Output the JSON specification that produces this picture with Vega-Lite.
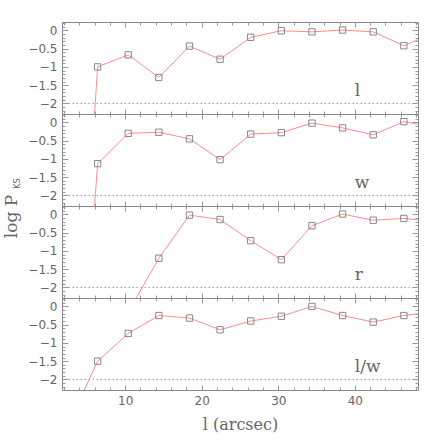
{
  "$schema": "https://vega.github.io/schema/vega-lite/v6.json",
  "padding": {"left": 2, "top": 21, "right": 0, "bottom": 0},
  "spacing": 0,
  "bounds": "flush",
  "config": {
    "view": {"stroke": "#888", "strokeWidth": 1},
    "axis": {"grid": false, "tickColor": "#999", "labelColor": "#666", "titleColor": "#666", "labelFont": "DejaVu Sans", "labelFontSize": 12, "titleFont": "DejaVu Serif", "titleFontWeight": "normal"},
    "concat": {"spacing": 0}
  },
  "datasets": {
    "l": [{"x": 2.4, "y": -14}, {"x": 6.4, "y": -1.0}, {"x": 10.4, "y": -0.67}, {"x": 14.4, "y": -1.29}, {"x": 18.4, "y": -0.43}, {"x": 22.4, "y": -0.79}, {"x": 26.4, "y": -0.19}, {"x": 30.4, "y": -0.01}, {"x": 34.4, "y": -0.04}, {"x": 38.4, "y": 0.01}, {"x": 42.4, "y": -0.04}, {"x": 46.4, "y": -0.42}, {"x": 50.4, "y": -0.06}],
    "w": [{"x": 2.4, "y": -12.8}, {"x": 6.4, "y": -1.13}, {"x": 10.4, "y": -0.30}, {"x": 14.4, "y": -0.27}, {"x": 18.4, "y": -0.45}, {"x": 22.4, "y": -1.02}, {"x": 26.4, "y": -0.32}, {"x": 30.4, "y": -0.28}, {"x": 34.4, "y": -0.02}, {"x": 38.4, "y": -0.15}, {"x": 42.4, "y": -0.34}, {"x": 46.4, "y": 0.02}, {"x": 50.4, "y": -0.13}],
    "r": [{"x": 10.4, "y": -2.68}, {"x": 14.4, "y": -1.20}, {"x": 18.4, "y": -0.02}, {"x": 22.4, "y": -0.14}, {"x": 26.4, "y": -0.72}, {"x": 30.4, "y": -1.24}, {"x": 34.4, "y": -0.31}, {"x": 38.4, "y": 0.01}, {"x": 42.4, "y": -0.16}, {"x": 46.4, "y": -0.11}, {"x": 50.4, "y": -0.2}],
    "lw": [{"x": 2.4, "y": -3.33}, {"x": 6.4, "y": -1.50}, {"x": 10.4, "y": -0.74}, {"x": 14.4, "y": -0.25}, {"x": 18.4, "y": -0.32}, {"x": 22.4, "y": -0.64}, {"x": 26.4, "y": -0.40}, {"x": 30.4, "y": -0.27}, {"x": 34.4, "y": 0.0}, {"x": 38.4, "y": -0.25}, {"x": 42.4, "y": -0.43}, {"x": 46.4, "y": -0.25}, {"x": 50.4, "y": -0.15}],
    "ref": [{"ref": -2}]
  },
  "vconcat": [
    {
      "width": 356, "height": 92,
      "data": {"name": "l"},
      "layer": [
        {"data": {"name": "ref"}, "mark": {"type": "rule", "color": "#999", "strokeDash": [1.5, 2.5], "strokeWidth": 1},
         "encoding": {"y": {"field": "ref", "type": "quantitative", "scale": {"domain": [-2.29, 0.23]}, "axis": null}}},
        {"mark": {"type": "line", "color": "#ff8c8c", "strokeWidth": 1, "clip": true},
         "encoding": {"x": {"field": "x", "type": "quantitative", "scale": {"domain": [1.75, 48.25]}, "axis": {"orient": "bottom", "values": [10, 20, 30, 40], "tickSize": -5, "labels": false, "domain": false, "title": null}},
                      "y": {"field": "y", "type": "quantitative", "scale": {"domain": [-2.29, 0.23]}, "axis": {"orient": "left", "values": [0, -0.5, -1, -1.5, -2], "format": "~g", "tickSize": -6, "labelPadding": 11, "domain": false, "title": null}}}},
        {"mark": {"type": "point", "shape": "square", "size": 40, "filled": false, "color": "#888", "strokeWidth": 1, "opacity": 1, "clip": true},
         "encoding": {"x": {"field": "x", "type": "quantitative", "scale": {"domain": [1.75, 48.25]}, "axis": {"orient": "top", "values": [10, 20, 30, 40], "tickSize": -5, "labels": false, "domain": false, "title": null}},
                      "y": {"field": "y", "type": "quantitative", "scale": {"domain": [-2.29, 0.23]}, "axis": {"orient": "right", "values": [0, -0.5, -1, -1.5, -2], "tickSize": -6, "labels": false, "domain": false, "title": null}}}},
        {"mark": {"type": "point", "opacity": 0, "clip": true},
         "encoding": {"x": {"field": "x", "type": "quantitative", "scale": {"domain": [1.75, 48.25]}, "axis": {"orient": "bottom", "values": [2,4,6,8,12,14,16,18,22,24,26,28,32,34,36,38,42,44,46,48], "tickSize": -3, "labels": false, "domain": false, "title": null}},
                      "y": {"field": "y", "type": "quantitative", "scale": {"domain": [-2.29, 0.23]}, "axis": {"orient": "left", "values": [0.2,0.1,-0.1,-0.2,-0.3,-0.4,-0.6,-0.7,-0.8,-0.9,-1.1,-1.2,-1.3,-1.4,-1.6,-1.7,-1.8,-1.9,-2.1,-2.2], "tickSize": -3, "labels": false, "domain": false, "title": null}}}},
        {"mark": {"type": "point", "opacity": 0, "clip": true},
         "encoding": {"x": {"field": "x", "type": "quantitative", "scale": {"domain": [1.75, 48.25]}, "axis": {"orient": "top", "values": [2,4,6,8,12,14,16,18,22,24,26,28,32,34,36,38,42,44,46,48], "tickSize": -3, "labels": false, "domain": false, "title": null}},
                      "y": {"field": "y", "type": "quantitative", "scale": {"domain": [-2.29, 0.23]}, "axis": {"orient": "right", "values": [0.2,0.1,-0.1,-0.2,-0.3,-0.4,-0.6,-0.7,-0.8,-0.9,-1.1,-1.2,-1.3,-1.4,-1.6,-1.7,-1.8,-1.9,-2.1,-2.2], "tickSize": -3, "labels": false, "domain": false, "title": null}}}},
        {"data": {"name": "ref"}, "mark": {"type": "text", "align": "left", "baseline": "alphabetic", "font": "DejaVu Serif", "fontSize": 17, "color": "#666"},
         "encoding": {"x": {"datum": 40, "type": "quantitative", "scale": {"domain": [1.75, 48.25]}, "axis": null}, "y": {"datum": -1.8, "type": "quantitative", "scale": {"domain": [-2.29, 0.23]}, "axis": null}, "text": {"value": "l"}}}
      ],
      "resolve": {"axis": {"x": "independent", "y": "independent"}}
    },
    {
      "width": 356, "height": 92,
      "data": {"name": "w"},
      "layer": [
        {"data": {"name": "ref"}, "mark": {"type": "rule", "color": "#999", "strokeDash": [1.5, 2.5], "strokeWidth": 1},
         "encoding": {"y": {"field": "ref", "type": "quantitative", "scale": {"domain": [-2.29, 0.23]}, "axis": null}}},
        {"mark": {"type": "line", "color": "#ff8c8c", "strokeWidth": 1, "clip": true},
         "encoding": {"x": {"field": "x", "type": "quantitative", "scale": {"domain": [1.75, 48.25]}, "axis": {"orient": "bottom", "values": [10, 20, 30, 40], "tickSize": -5, "labels": false, "domain": false, "title": null}},
                      "y": {"field": "y", "type": "quantitative", "scale": {"domain": [-2.29, 0.23]}, "axis": {"orient": "left", "values": [0, -0.5, -1, -1.5, -2], "format": "~g", "tickSize": -6, "labelPadding": 11, "domain": false, "title": "log P", "titleFontSize": 17, "titleX": -45.5, "titleY": 102, "titleBaseline": "alphabetic", "titleAngle": 270}}}},
        {"mark": {"type": "point", "shape": "square", "size": 40, "filled": false, "color": "#888", "strokeWidth": 1, "opacity": 1, "clip": true},
         "encoding": {"x": {"field": "x", "type": "quantitative", "scale": {"domain": [1.75, 48.25]}, "axis": {"orient": "top", "values": [10, 20, 30, 40], "tickSize": -5, "labels": false, "domain": false, "title": null}},
                      "y": {"field": "y", "type": "quantitative", "scale": {"domain": [-2.29, 0.23]}, "axis": {"orient": "right", "values": [0, -0.5, -1, -1.5, -2], "tickSize": -6, "labels": false, "domain": false, "title": null}}}},
        {"mark": {"type": "point", "opacity": 0, "clip": true},
         "encoding": {"x": {"field": "x", "type": "quantitative", "scale": {"domain": [1.75, 48.25]}, "axis": {"orient": "bottom", "values": [2,4,6,8,12,14,16,18,22,24,26,28,32,34,36,38,42,44,46,48], "tickSize": -3, "labels": false, "domain": false, "title": null}},
                      "y": {"field": "y", "type": "quantitative", "scale": {"domain": [-2.29, 0.23]}, "axis": {"orient": "left", "values": [0.2,0.1,-0.1,-0.2,-0.3,-0.4,-0.6,-0.7,-0.8,-0.9,-1.1,-1.2,-1.3,-1.4,-1.6,-1.7,-1.8,-1.9,-2.1,-2.2], "tickSize": -3, "labels": false, "domain": false, "title": "KS", "titleFont": "DejaVu Sans", "titleFontSize": 8, "titleX": -42.7, "titleY": 69, "titleBaseline": "alphabetic", "titleAngle": 270}}}},
        {"mark": {"type": "point", "opacity": 0, "clip": true},
         "encoding": {"x": {"field": "x", "type": "quantitative", "scale": {"domain": [1.75, 48.25]}, "axis": {"orient": "top", "values": [2,4,6,8,12,14,16,18,22,24,26,28,32,34,36,38,42,44,46,48], "tickSize": -3, "labels": false, "domain": false, "title": null}},
                      "y": {"field": "y", "type": "quantitative", "scale": {"domain": [-2.29, 0.23]}, "axis": {"orient": "right", "values": [0.2,0.1,-0.1,-0.2,-0.3,-0.4,-0.6,-0.7,-0.8,-0.9,-1.1,-1.2,-1.3,-1.4,-1.6,-1.7,-1.8,-1.9,-2.1,-2.2], "tickSize": -3, "labels": false, "domain": false, "title": null}}}},
        {"data": {"name": "ref"}, "mark": {"type": "text", "align": "left", "baseline": "alphabetic", "font": "DejaVu Serif", "fontSize": 17, "color": "#666"},
         "encoding": {"x": {"datum": 40, "type": "quantitative", "scale": {"domain": [1.75, 48.25]}, "axis": null}, "y": {"datum": -1.8, "type": "quantitative", "scale": {"domain": [-2.29, 0.23]}, "axis": null}, "text": {"value": "w"}}}
      ],
      "resolve": {"axis": {"x": "independent", "y": "independent"}}
    },
    {
      "width": 356, "height": 92,
      "data": {"name": "r"},
      "layer": [
        {"data": {"name": "ref"}, "mark": {"type": "rule", "color": "#999", "strokeDash": [1.5, 2.5], "strokeWidth": 1},
         "encoding": {"y": {"field": "ref", "type": "quantitative", "scale": {"domain": [-2.29, 0.23]}, "axis": null}}},
        {"mark": {"type": "line", "color": "#ff8c8c", "strokeWidth": 1, "clip": true},
         "encoding": {"x": {"field": "x", "type": "quantitative", "scale": {"domain": [1.75, 48.25]}, "axis": {"orient": "bottom", "values": [10, 20, 30, 40], "tickSize": -5, "labels": false, "domain": false, "title": null}},
                      "y": {"field": "y", "type": "quantitative", "scale": {"domain": [-2.29, 0.23]}, "axis": {"orient": "left", "values": [0, -0.5, -1, -1.5, -2], "format": "~g", "tickSize": -6, "labelPadding": 11, "domain": false, "title": null}}}},
        {"mark": {"type": "point", "shape": "square", "size": 40, "filled": false, "color": "#888", "strokeWidth": 1, "opacity": 1, "clip": true},
         "encoding": {"x": {"field": "x", "type": "quantitative", "scale": {"domain": [1.75, 48.25]}, "axis": {"orient": "top", "values": [10, 20, 30, 40], "tickSize": -5, "labels": false, "domain": false, "title": null}},
                      "y": {"field": "y", "type": "quantitative", "scale": {"domain": [-2.29, 0.23]}, "axis": {"orient": "right", "values": [0, -0.5, -1, -1.5, -2], "tickSize": -6, "labels": false, "domain": false, "title": null}}}},
        {"mark": {"type": "point", "opacity": 0, "clip": true},
         "encoding": {"x": {"field": "x", "type": "quantitative", "scale": {"domain": [1.75, 48.25]}, "axis": {"orient": "bottom", "values": [2,4,6,8,12,14,16,18,22,24,26,28,32,34,36,38,42,44,46,48], "tickSize": -3, "labels": false, "domain": false, "title": null}},
                      "y": {"field": "y", "type": "quantitative", "scale": {"domain": [-2.29, 0.23]}, "axis": {"orient": "left", "values": [0.2,0.1,-0.1,-0.2,-0.3,-0.4,-0.6,-0.7,-0.8,-0.9,-1.1,-1.2,-1.3,-1.4,-1.6,-1.7,-1.8,-1.9,-2.1,-2.2], "tickSize": -3, "labels": false, "domain": false, "title": null}}}},
        {"mark": {"type": "point", "opacity": 0, "clip": true},
         "encoding": {"x": {"field": "x", "type": "quantitative", "scale": {"domain": [1.75, 48.25]}, "axis": {"orient": "top", "values": [2,4,6,8,12,14,16,18,22,24,26,28,32,34,36,38,42,44,46,48], "tickSize": -3, "labels": false, "domain": false, "title": null}},
                      "y": {"field": "y", "type": "quantitative", "scale": {"domain": [-2.29, 0.23]}, "axis": {"orient": "right", "values": [0.2,0.1,-0.1,-0.2,-0.3,-0.4,-0.6,-0.7,-0.8,-0.9,-1.1,-1.2,-1.3,-1.4,-1.6,-1.7,-1.8,-1.9,-2.1,-2.2], "tickSize": -3, "labels": false, "domain": false, "title": null}}}},
        {"data": {"name": "ref"}, "mark": {"type": "text", "align": "left", "baseline": "alphabetic", "font": "DejaVu Serif", "fontSize": 17, "color": "#666"},
         "encoding": {"x": {"datum": 40, "type": "quantitative", "scale": {"domain": [1.75, 48.25]}, "axis": null}, "y": {"datum": -1.8, "type": "quantitative", "scale": {"domain": [-2.29, 0.23]}, "axis": null}, "text": {"value": "r"}}}
      ],
      "resolve": {"axis": {"x": "independent", "y": "independent"}}
    },
    {
      "width": 356, "height": 92,
      "data": {"name": "lw"},
      "layer": [
        {"data": {"name": "ref"}, "mark": {"type": "rule", "color": "#999", "strokeDash": [1.5, 2.5], "strokeWidth": 1},
         "encoding": {"y": {"field": "ref", "type": "quantitative", "scale": {"domain": [-2.29, 0.23]}, "axis": null}}},
        {"mark": {"type": "line", "color": "#ff8c8c", "strokeWidth": 1, "clip": true},
         "encoding": {"x": {"field": "x", "type": "quantitative", "scale": {"domain": [1.75, 48.25]}, "axis": {"orient": "bottom", "values": [10, 20, 30, 40], "tickSize": -5, "labels": true, "labelPadding": 10, "domain": false, "title": "l (arcsec)", "titleFontSize": 16, "titleY": 39, "titleBaseline": "alphabetic"}},
                      "y": {"field": "y", "type": "quantitative", "scale": {"domain": [-2.29, 0.23]}, "axis": {"orient": "left", "values": [0, -0.5, -1, -1.5, -2], "format": "~g", "tickSize": -6, "labelPadding": 11, "domain": false, "title": null}}}},
        {"mark": {"type": "point", "shape": "square", "size": 40, "filled": false, "color": "#888", "strokeWidth": 1, "opacity": 1, "clip": true},
         "encoding": {"x": {"field": "x", "type": "quantitative", "scale": {"domain": [1.75, 48.25]}, "axis": {"orient": "top", "values": [10, 20, 30, 40], "tickSize": -5, "labels": false, "domain": false, "title": null}},
                      "y": {"field": "y", "type": "quantitative", "scale": {"domain": [-2.29, 0.23]}, "axis": {"orient": "right", "values": [0, -0.5, -1, -1.5, -2], "tickSize": -6, "labels": false, "domain": false, "title": null}}}},
        {"mark": {"type": "point", "opacity": 0, "clip": true},
         "encoding": {"x": {"field": "x", "type": "quantitative", "scale": {"domain": [1.75, 48.25]}, "axis": {"orient": "bottom", "values": [2,4,6,8,12,14,16,18,22,24,26,28,32,34,36,38,42,44,46,48], "tickSize": -3, "labels": false, "domain": false, "title": null}},
                      "y": {"field": "y", "type": "quantitative", "scale": {"domain": [-2.29, 0.23]}, "axis": {"orient": "left", "values": [0.2,0.1,-0.1,-0.2,-0.3,-0.4,-0.6,-0.7,-0.8,-0.9,-1.1,-1.2,-1.3,-1.4,-1.6,-1.7,-1.8,-1.9,-2.1,-2.2], "tickSize": -3, "labels": false, "domain": false, "title": null}}}},
        {"mark": {"type": "point", "opacity": 0, "clip": true},
         "encoding": {"x": {"field": "x", "type": "quantitative", "scale": {"domain": [1.75, 48.25]}, "axis": {"orient": "top", "values": [2,4,6,8,12,14,16,18,22,24,26,28,32,34,36,38,42,44,46,48], "tickSize": -3, "labels": false, "domain": false, "title": null}},
                      "y": {"field": "y", "type": "quantitative", "scale": {"domain": [-2.29, 0.23]}, "axis": {"orient": "right", "values": [0.2,0.1,-0.1,-0.2,-0.3,-0.4,-0.6,-0.7,-0.8,-0.9,-1.1,-1.2,-1.3,-1.4,-1.6,-1.7,-1.8,-1.9,-2.1,-2.2], "tickSize": -3, "labels": false, "domain": false, "title": null}}}},
        {"data": {"name": "ref"}, "mark": {"type": "text", "align": "left", "baseline": "alphabetic", "font": "DejaVu Serif", "fontSize": 17, "color": "#666"},
         "encoding": {"x": {"datum": 40, "type": "quantitative", "scale": {"domain": [1.75, 48.25]}, "axis": null}, "y": {"datum": -1.8, "type": "quantitative", "scale": {"domain": [-2.29, 0.23]}, "axis": null}, "text": {"value": "l/w"}}}
      ],
      "resolve": {"axis": {"x": "independent", "y": "independent"}}
    }
  ]
}
